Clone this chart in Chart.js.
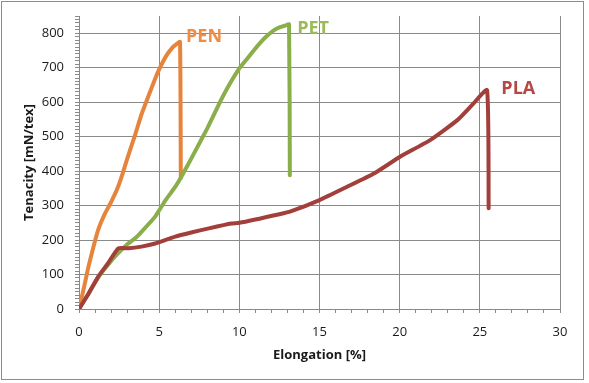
<!DOCTYPE html>
<html>
<head>
<meta charset="utf-8">
<script src="https://cdn.jsdelivr.net/npm/chart.js@4/dist/chart.umd.min.js"></script>
<style>
  html, body { margin: 0; padding: 0; background: #ffffff; }
  #wrap { width: 589px; height: 383px; position: relative; }
</style>
</head>
<body>
<div id="wrap"><canvas id="c" width="589" height="383"></canvas></div>
<script>
// ---- data ----
const seriesNames = ['PLA', 'PET', 'PEN'];

const penX = [0, 0.3, 0.6, 0.9, 1.2, 1.6, 2.0, 2.4, 2.7, 3.0, 3.5, 3.9, 4.35, 4.75, 5.05, 5.45, 5.8, 6.1, 6.3, 6.35];
const penY = [0, 60, 125, 180, 230, 275, 310, 350, 390, 435, 505, 565, 620, 668, 700, 735, 757, 769, 775, 380];

const petX = [0, 0.6, 1.2, 1.8, 2.4, 3.0, 3.5, 3.9, 4.75, 5.4, 6.0, 6.4, 7.1, 8.0, 8.8, 9.3, 10.0, 10.5, 10.9, 11.3, 11.7, 12.15, 12.5, 12.9, 13.1, 13.15];
const petY = [0, 45, 92, 128, 160, 187, 205, 224, 268, 316, 354, 385, 445, 524, 601, 645, 698, 727, 750, 772, 791, 808, 817, 823, 826, 388];

const plaX = [0, 0.6, 1.2, 1.8, 2.45, 3.1, 3.9, 4.75, 6.0, 7.0, 8.1, 9.5, 10.0, 12.5, 13.2, 15.0, 16.7, 18.4, 20.0, 21.9, 23.6, 24.6, 25.45, 25.55];
const plaY = [0, 45, 94, 132, 176, 176, 181, 190, 210, 222, 234, 248, 250, 275, 283, 316, 354, 393, 441, 490, 548, 596, 635, 292];

const labelText = ['PEN', 'PET', 'PLA'];
const labelX = [7.8, 14.6, 27.4];
const labelY = [788, 814, 640];

const xMin = 0, xMax = 30, xMajor = 5, xMinor = 1;
const yMin = 0, yMax = 850, yMajor = 100, yMinor = 10;

const xTitle = 'Elongation [%]';
const yTitle = 'Tenacity [mN/tex]';

// ---- styles ----
const lineColors = { PEN: '#E6843C', PET: '#8AAE4A', PLA: '#A33F3B' };
const textColors = { PEN: '#EE8D48', PET: '#9BBB59', PLA: '#B54845' };
const gridGray = '#8a8a8a';
const fontFam = '"Open Sans", "Liberation Sans", sans-serif';

function pts(xs, ys) { return xs.map((x, i) => ({ x: x, y: ys[i] })); }
const seriesData = { PEN: pts(penX, penY), PET: pts(petX, petY), PLA: pts(plaX, plaY) };

const frame = {
  id: 'frame',
  beforeDraw(chart) {
    const ctx = chart.ctx;
    ctx.save();
    ctx.fillStyle = '#ffffff';
    ctx.fillRect(0, 0, chart.width, chart.height);
    ctx.restore();
  },
  afterDraw(chart) {
    const ctx = chart.ctx;
    ctx.save();
    ctx.strokeStyle = '#8c8c8c';
    ctx.lineWidth = 1;
    ctx.strokeRect(1.5, 1.5, 582, 378);
    const xs = chart.scales.x, ys = chart.scales.y;
    ctx.font = 'bold 18px ' + fontFam;
    ctx.textAlign = 'center';
    ctx.textBaseline = 'middle';
    labelText.forEach((t, i) => {
      ctx.fillStyle = textColors[t];
      ctx.fillText(t, xs.getPixelForValue(labelX[i]), ys.getPixelForValue(labelY[i]));
    });
    ctx.restore();
  }
};

new Chart(document.getElementById('c'), {
  type: 'line',
  data: {
    datasets: seriesNames.map(n => ({
      label: n,
      data: seriesData[n],
      borderColor: lineColors[n],
      backgroundColor: lineColors[n],
      borderWidth: 4,
      pointRadius: 0,
      tension: 0.15,
      borderCapStyle: 'round',
      borderJoinStyle: 'round',
      fill: false
    }))
  },
  options: {
    responsive: false,
    animation: false,
    layout: { padding: { left: 0, right: 29, top: 16, bottom: 0 } },
    plugins: { legend: { display: false }, tooltip: { enabled: false } },
    scales: {
      x: {
        type: 'linear',
        min: xMin, max: xMax,
        afterFit(s) { s.height = 74; s.paddingLeft = 0; s.paddingRight = 0; },
        ticks: {
          stepSize: xMinor, autoSkip: false, maxRotation: 0, padding: 11,
          maxTicksLimit: 1000,
          color: '#1a1a1a',
          font: { family: fontFam, size: 13 },
          callback: v => (v % xMajor === 0 ? String(v) : '')
        },
        grid: {
          color: c => (c.tick && c.tick.value % xMajor === 0 && c.tick.value !== 0 ? gridGray : 'rgba(0,0,0,0)'),
          tickColor: gridGray,
          tickLength: 4,
          lineWidth: 1
        },
        border: { color: gridGray, width: 1 },
        title: {
          display: true, text: xTitle, color: '#1a1a1a',
          font: { family: fontFam, size: 13, weight: 'bold' },
          padding: { top: 0, bottom: 20 }
        }
      },
      y: {
        type: 'linear',
        min: yMin, max: yMax,
        afterFit(s) { s.width = 79; s.paddingTop = 0; s.paddingBottom = 0; },
        ticks: {
          stepSize: yMinor, autoSkip: false, padding: 11,
          maxTicksLimit: 1000,
          color: '#1a1a1a',
          font: { family: fontFam, size: 13 },
          callback: v => (v % yMajor === 0 ? String(v) : '')
        },
        grid: {
          color: c => (c.tick && c.tick.value % yMajor === 0 && c.tick.value !== 0 ? gridGray : 'rgba(0,0,0,0)'),
          tickColor: gridGray,
          tickLength: 4,
          lineWidth: 1
        },
        border: { color: gridGray, width: 1 },
        title: {
          display: true, text: yTitle, color: '#1a1a1a',
          font: { family: fontFam, size: 13, weight: 'bold' },
          padding: { top: 21, bottom: 0 }
        }
      }
    }
  },
  plugins: [frame]
});
</script>
</body>
</html>
